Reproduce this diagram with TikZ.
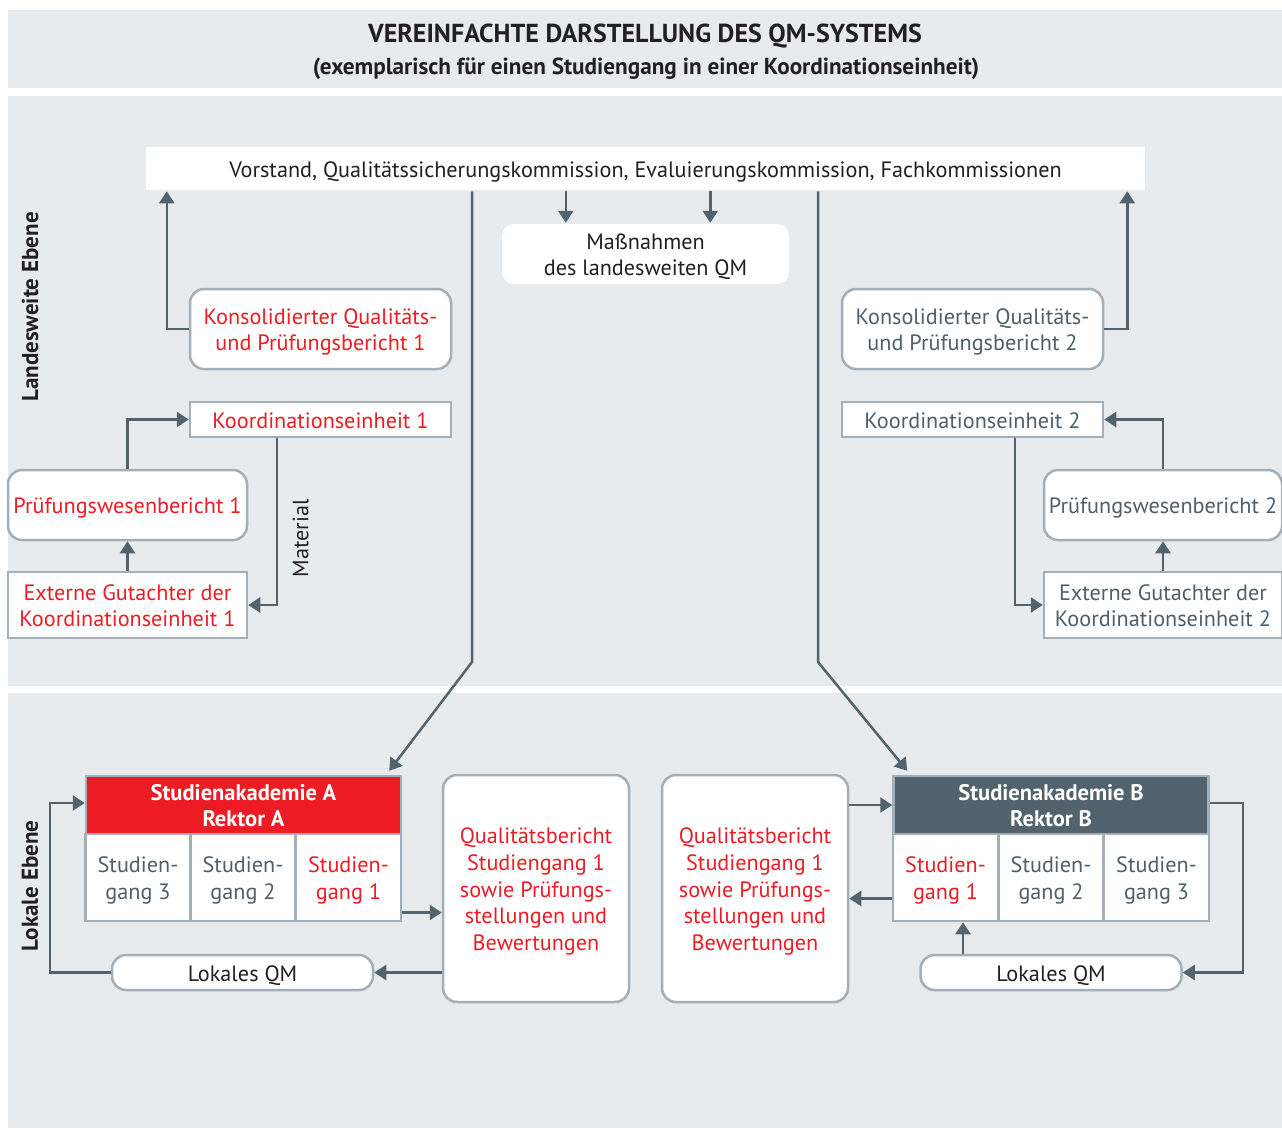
\documentclass[tikz,border=0pt]{standalone}
\usepackage{fontspec}
\setmainfont{PT Sans}
\usetikzlibrary{arrows.meta}
\definecolor{qmgrey}{HTML}{E8EBEE}
\definecolor{qmline}{HTML}{52636E}
\definecolor{qmborder}{HTML}{A3AFB8}
\definecolor{qmred}{HTML}{ED1C24}
\definecolor{qmtext}{HTML}{4F5F69}
\definecolor{qmblack}{HTML}{231F20}
\newcommand{\boxfont}{\fontsize{22.2}{26.8}\selectfont}

\begin{document}
\begin{tikzpicture}[x=1pt,y=-1pt,
    panel/.style={fill=qmgrey,draw=none},
    plainbox/.style={fill=white,draw=qmborder,line width=2.5pt,inner sep=0pt,
      align=center,font=\boxfont,text=qmblack,
      execute at begin node={\rule{0pt}{22pt}},
      execute at end node={\rule[-5pt]{0pt}{5pt}}},
    twolines/.style={execute at begin node={\rule{0pt}{48.8pt}}},
    fivelines/.style={execute at begin node={\rule{0pt}{129.2pt}}},
    roundbox/.style={plainbox,rounded corners=14pt},
    redtext/.style={text=qmred},
    greytext/.style={text=qmtext},
    header/.style={plainbox,twolines,text=white,font=\fontsize{22.5}{26.8}\selectfont\bfseries,
      minimum width=315pt,minimum height=58pt},
    cell/.style={plainbox,twolines,minimum width=105pt,minimum height=87pt},
    qbox/.style={roundbox,fivelines,redtext,minimum width=186pt,minimum height=227pt},
    lokbox/.style={roundbox,minimum width=261pt,minimum height=35pt},
    sidelabel/.style={rotate=90,font=\fontsize{23}{27}\selectfont\bfseries,text=qmblack},
    arr/.style={draw=qmline,line width=2.5pt,
      -{Triangle[width=15pt,length=12pt]}},
  ]
  \useasboundingbox (0,0) rectangle (1282,1128);
  \fill[white] (0,0) rectangle (1282,1128);

  % panels
  \fill[panel] (8,10) rectangle (1282,88);
  \fill[panel] (8,96) rectangle (1282,686);
  \fill[panel] (8,693) rectangle (1282,1128);

  \node[font=\fontsize{26}{30}\selectfont\bfseries,text=qmblack] (title) at (645,36)
    {VEREINFACHTE DARSTELLUNG DES QM-SYSTEMS};
  \node[font=\fontsize{23.2}{27}\selectfont\bfseries,text=qmblack] (subtitle) at (646,69)
    {(exemplarisch für einen Studiengang in einer Koordinationseinheit)};

  \node[sidelabel] (landlabel) at (30,307) {Landesweite Ebene};
  \node[sidelabel] (loklabel) at (30,886) {Lokale Ebene};

  % landesweite Ebene
  \node[plainbox,draw=none,minimum width=999pt,minimum height=43pt] (top) at (645.5,168.5)
    {Vorstand, Qualitätssicherungskommission, Evaluierungskommission, Fachkommissionen};
  \node[roundbox,twolines,draw=none,rounded corners=12pt,minimum width=287pt,minimum height=60pt]
    (mass) at (645.5,254) {Maßnahmen\\des landesweiten QM};

  \node[roundbox,twolines,redtext,minimum width=261pt,minimum height=80pt] (kons1) at (320.5,329)
    {Konsolidierter Qualitäts-\\und Prüfungsbericht 1};
  \node[roundbox,twolines,greytext,minimum width=261pt,minimum height=80pt] (kons2) at (972.5,329)
    {Konsolidierter Qualitäts-\\und Prüfungsbericht 2};
  \node[plainbox,redtext,minimum width=261pt,minimum height=35pt] (koord1) at (320.5,419.5)
    {Koordinationseinheit 1};
  \node[plainbox,greytext,minimum width=261pt,minimum height=35pt] (koord2) at (972.5,419.5)
    {Koordinationseinheit 2};
  \node[roundbox,redtext,minimum width=239pt,minimum height=70pt] (pruef1) at (127.5,505)
    {Prüfungswesenbericht 1};
  \node[plainbox,twolines,redtext,minimum width=239pt,minimum height=66pt] (ext1) at (127.5,605)
    {Externe Gutachter der\\Koordinationseinheit 1};
  \node[roundbox,greytext,minimum width=238pt,minimum height=70pt] (pruef2) at (1163,505)
    {Prüfungswesenbericht 2};
  \node[plainbox,twolines,greytext,minimum width=238pt,minimum height=66pt] (ext2) at (1163,605)
    {Externe Gutachter der\\Koordinationseinheit 2};

  \draw[arr] (kons1.west) -| ([xshift=22pt]top.south west);
  \draw[arr] (kons2.east) -| ([xshift=-19pt]top.south east);
  \draw[arr] ([xshift=65pt]top.south -| mass.west) -- ([xshift=65pt]mass.north west);
  \draw[arr] ([xshift=-80pt]top.south -| mass.east) -- ([xshift=-80pt]mass.north east);
  \draw[arr] (pruef1.north) |- (koord1.west);
  \draw[arr] (ext1.north) -- (pruef1.south);
  \draw[arr] ([xshift=-43.5pt]koord1.south) |- (ext1.east)
    node[pos=0.3,right=11pt,rotate=90,anchor=north,font=\boxfont,text=qmblack] (material) {Material};
  \draw[arr] (pruef2.north) |- (koord2.east);
  \draw[arr] (ext2.north) -- (pruef2.south);
  \draw[arr] ([xshift=42.5pt]koord2.south) |- (ext2.west);

  % lokale Ebene
  \node[header,fill=qmred] (headA) at (243.5,805) {Studienakademie A\\Rektor A};
  \node[cell,greytext] (sgA3) at (138,877.5) {Studien-\\gang 3};
  \node[cell,greytext] (sgA2) at (243,877.5) {Studien-\\gang 2};
  \node[cell,redtext] (sgA1) at (348.5,877.5) {Studien-\\gang 1};
  \node[qbox] (qbA) at (536,888.5)
    {Qualitätsbericht\\Studiengang 1\\sowie Prüfungs-\\stellungen und\\Bewertungen};
  \node[lokbox] (lokA) at (242.5,972.5) {Lokales QM};

  \node[qbox] (qbB) at (755,888.5)
    {Qualitätsbericht\\Studiengang 1\\sowie Prüfungs-\\stellungen und\\Bewertungen};
  \node[header,fill=qmline] (headB) at (1051,805) {Studienakademie B\\Rektor B};
  \node[cell,redtext] (sgB1) at (945.5,877.5) {Studien-\\gang 1};
  \node[cell,greytext] (sgB2) at (1051,877.5) {Studien-\\gang 2};
  \node[cell,greytext] (sgB3) at (1156.5,877.5) {Studien-\\gang 3};
  \node[lokbox] (lokB) at (1051,972.5) {Lokales QM};

  \coordinate (bendA) at (472,662);
  \coordinate (bendB) at (818,662);
  \draw[arr] (bendA |- top.south) -- (bendA) -- ([xshift=-13pt,yshift=4pt]headA.north east);
  \draw[arr] (bendB |- top.south) -- (bendB) -- ([xshift=15pt,yshift=4pt]headB.north west);

  \draw[arr] ([yshift=-35pt]sgA1.east) -- ([yshift=-35pt]sgA1.east -| qbA.west);
  \draw[arr] (qbA.west |- lokA.east) -- (lokA.east);
  \draw[arr] (lokA.west) -- ++(-61,0) |- ([yshift=2pt]headA.west);
  \draw[arr] (qbB.east |- headB.west) -- (headB.west);
  \draw[arr] ([yshift=-21pt]sgB1.west) -- ([yshift=-21pt]sgB1.west -| qbB.east);
  \draw[arr] ([xshift=-88pt]lokB.north) -- ([xshift=-88pt]lokB.north |- sgB1.south);
  \draw[arr] ([yshift=2pt]headB.east) -- ++(33,0) |- (lokB.east);
\end{tikzpicture}
\end{document}
